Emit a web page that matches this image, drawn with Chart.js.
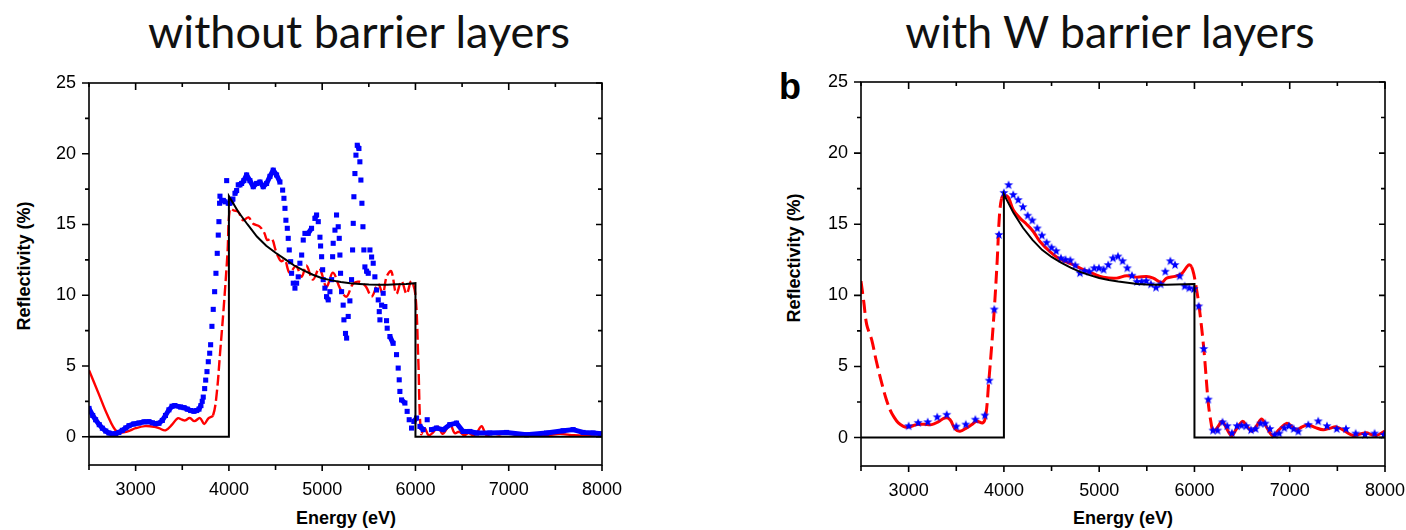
<!DOCTYPE html>
<html>
<head>
<meta charset="utf-8">
<script src="https://cdn.jsdelivr.net/npm/chart.js@4.4.1/dist/chart.umd.min.js"></script>
<style>
  body { margin: 0; width: 1406px; height: 530px; background: #fff; position: relative; overflow: hidden;
         font-family: 'Liberation Sans', Arial, sans-serif; color: #000; }
  canvas { position: absolute; top: 0; }
  .t { position: absolute; white-space: nowrap; line-height: 1; }
  .title { font-family: Lato, 'Open Sans', sans-serif; font-size: 42px; transform: translateX(-50%); color: #111; }
  .ax { font-weight: bold; font-size: 18px; transform: translate(-50%, -50%); }
  .ay { font-weight: bold; font-size: 18px; transform: translate(-50%, -50%) rotate(-90deg); }
  .lab { font-weight: bold; font-size: 36px; }
</style>
</head>
<body>
<div class="t title" id="titleA" style="left:359px; top:9px">without barrier layers</div>
<div class="t title" id="titleB" style="left:1110px; top:9px">with W barrier layers</div>
<div class="t lab" style="left:779px; top:69px">b</div>
<div class="t ay" style="left:24px; top:266px">Reflectivity (%)</div>
<div class="t ay" style="left:794px; top:258px">Reflectivity (%)</div>
<div class="t ax" style="left:346px; top:518px">Energy (eV)</div>
<div class="t ax" style="left:1123px; top:518px">Energy (eV)</div>
<canvas id="chartA" width="640" height="530" style="left:0"></canvas>
<canvas id="chartB" width="706" height="530" style="left:700px"></canvas>
<script>
// tick values (energy in eV, reflectivity in %)
const xTickValues = [2500, 3000, 3500, 4000, 4500, 5000, 5500, 6000, 6500, 7000, 7500, 8000];
const yTickValues = [0, 2.5, 5, 7.5, 10, 12.5, 15, 17.5, 20, 22.5, 25];

// ---- panel a: without barrier layers ----
const leftTheory = [
  [2500, 0], [4000, 0], [4000, 17.0], [4100, 15.9], [4200, 15.0], [4300, 14.15], [4400, 13.5],
  [4500, 13.0], [4600, 12.55], [4700, 12.1], [4800, 11.75], [4900, 11.45], [5000, 11.2],
  [5100, 11.05], [5200, 10.93], [5300, 10.85], [5400, 10.8], [5500, 10.76], [5600, 10.74],
  [5700, 10.74], [5800, 10.77], [5900, 10.8], [6000, 10.85], [6000, 0], [8000, 0]
];
const leftSimulation = [
  [2500, 4.7], [2600, 3.1], [2700, 1.5], [2800, 0.35], [2900, 0.35], [3000, 0.6], [3100, 0.75],
  [3200, 0.7], [3250, 0.6], [3320, 0.45], [3390, 0.85], [3450, 1.3], [3500, 1.2], [3530, 1.15],
  [3580, 1.32], [3630, 1.1], [3690, 1.32], [3735, 0.9], [3780, 1.3], [3830, 1.5], [3870, 3.1],
  [3905, 5.9], [3945, 9.2], [3985, 13.0], [4010, 16.1], [4050, 16.0], [4100, 15.9], [4150, 15.3],
  [4210, 15.5], [4260, 15.05], [4330, 14.85], [4380, 14.4], [4410, 13.9], [4460, 14.0], [4500, 13.2],
  [4530, 12.7], [4560, 12.4], [4600, 12.5], [4650, 11.6], [4720, 12.05], [4780, 11.3], [4830, 12.1],
  [4900, 11.1], [4970, 11.9], [5045, 10.6], [5115, 11.6], [5190, 10.5], [5260, 9.9], [5330, 10.8],
  [5400, 10.95], [5470, 10.6], [5530, 9.9], [5600, 10.8], [5650, 10.1], [5690, 11.3], [5740, 11.7],
  [5795, 10.1], [5850, 11.0], [5905, 10.1], [5955, 11.0], [6000, 10.0], [6030, 5.5], [6060, 0.2],
  [6100, 0.6], [6140, 0.1], [6190, 0.3], [6240, 0.7], [6290, 0.2], [6330, 0.5], [6370, 0.95],
  [6420, 0.25], [6470, 0.35], [6520, 0.1], [6570, 0.25], [6620, 0.1], [6660, 0.3], [6710, 0.75],
  [6760, 0.1], [6820, 0.25], [6900, 0.15], [6980, 0.3], [7100, 0.1], [7260, 0.2], [7400, 0.1],
  [7550, 0.2], [7700, 0.1], [7830, 0.1], [7980, 0.2]
];
const leftExperiment = [
  [2500, 2.0], [2540, 1.5], [2571, 1.2], [2610, 0.85], [2643, 0.6], [2680, 0.4], [2714, 0.26],
  [2750, 0.2], [2786, 0.21], [2820, 0.3], [2857, 0.45], [2895, 0.62], [2929, 0.78], [2980, 0.9],
  [3036, 0.97], [3090, 1.05], [3143, 1.06], [3180, 0.98], [3215, 0.92], [3250, 0.95], [3286, 1.15],
  [3320, 1.5], [3357, 1.9], [3390, 2.15], [3420, 2.2], [3482, 2.1], [3520, 2.05], [3554, 1.95],
  [3590, 1.85], [3625, 1.8], [3655, 1.85], [3679, 1.95], [3700, 2.2], [3714, 2.5], [3725, 2.8],
  [3740, 3.4], [3751, 4.0], [3765, 4.6], [3779, 5.3], [3794, 5.9], [3804, 6.5], [3818, 7.8],
  [3832, 9.0], [3847, 10.25], [3861, 11.55], [3875, 12.96], [3886, 14.25], [3893, 15.2], [3900, 16.5],
  [3904, 17.0], [3922, 16.7], [3940, 16.7], [3958, 16.6], [3976, 18.1], [3993, 16.5], [4010, 16.5],
  [4029, 16.6], [4043, 16.8], [4065, 17.2], [4083, 17.4], [4100, 17.8], [4118, 17.8], [4136, 17.9],
  [4160, 18.1], [4190, 18.5], [4225, 18.1], [4261, 17.67], [4297, 17.9], [4333, 18.0], [4368, 17.67],
  [4404, 17.9], [4440, 18.4], [4475, 18.84], [4511, 18.5], [4547, 18.0], [4576, 17.43], [4590, 16.85],
  [4601, 16.14], [4611, 15.3], [4626, 14.73], [4636, 14.02], [4647, 13.2], [4662, 12.37], [4672, 11.55],
  [4690, 10.85], [4708, 10.5], [4726, 10.85], [4743, 11.3], [4761, 12.26], [4780, 12.84], [4797, 13.9],
  [4815, 14.37], [4850, 14.37], [4886, 14.73], [4922, 15.43], [4940, 15.67], [4958, 15.2], [4976, 14.1],
  [4983, 13.48], [4994, 12.72], [5005, 11.8], [5011, 11.1], [5029, 10.5], [5047, 9.9], [5065, 9.67],
  [5083, 10.25], [5101, 11.1], [5112, 12.72], [5118, 13.67], [5137, 14.6], [5154, 15.67], [5172, 14.84],
  [5183, 14.02], [5190, 12.84], [5197, 11.55], [5208, 10.25], [5225, 9.3], [5233, 8.26], [5250, 7.3],
  [5262, 6.97], [5279, 8.5], [5297, 9.6], [5315, 11.1], [5326, 13.2], [5333, 15.08], [5340, 16.96],
  [5351, 18.6], [5362, 19.9], [5376, 20.6], [5394, 20.37], [5404, 19.43], [5415, 18.14], [5426, 16.5],
  [5437, 14.84], [5447, 13.2], [5458, 12.0], [5476, 11.7], [5494, 11.55], [5512, 13.2], [5530, 12.7],
  [5547, 12.26], [5565, 11.3], [5583, 10.37], [5601, 9.67], [5612, 8.84], [5619, 8.26], [5637, 9.3],
  [5654, 10.14], [5672, 9.2], [5690, 8.2], [5697, 7.67], [5726, 7.08], [5761, 6.6], [5797, 5.8],
  [5815, 4.85], [5826, 4.02], [5833, 3.2], [5851, 2.6], [5887, 2.38], [5911, 1.79], [5933, 1.2],
  [5958, 0.61], [5983, 1.08], [6012, 1.32], [6048, 0.73], [6083, 0.5], [6126, 1.2], [6172, 0.5],
  [6226, 0.61], [6297, 0.5], [6368, 0.85], [6440, 0.96], [6511, 0.37], [6583, 0.37], [6654, 0.26],
  [6797, 0.26], [6976, 0.3], [7190, 0.14], [7405, 0.26], [7583, 0.42], [7690, 0.5], [7797, 0.3],
  [7904, 0.26], [8000, 0.2]
];

// ---- panel b: with W barrier layers ----
const rightTheory = [
  [2500, 0], [4000, 0], [4000, 17.1], [4100, 15.8], [4200, 14.75], [4300, 13.9], [4400, 13.2],
  [4500, 12.7], [4600, 12.3], [4700, 11.95], [4800, 11.65], [4900, 11.42], [5000, 11.22],
  [5100, 11.08], [5200, 10.97], [5300, 10.88], [5400, 10.8], [5500, 10.76], [5600, 10.74],
  [5700, 10.74], [5800, 10.76], [5900, 10.78], [6000, 10.8], [6000, 0], [8000, 0]
];
const rightSimulation = [
  [2500, 11.0], [2530, 9.5], [2560, 7.94], [2612, 6.88], [2660, 5.4], [2717, 3.84], [2760, 2.8],
  [2804, 1.97], [2850, 1.4], [2892, 1.03], [2940, 0.8], [2979, 0.72], [3030, 0.8], [3084, 0.91],
  [3160, 0.93], [3242, 0.91], [3310, 1.1], [3381, 1.38], [3434, 1.26], [3486, 0.61], [3539, 0.44],
  [3609, 0.68], [3660, 0.9], [3714, 1.15], [3777, 1.03], [3809, 1.5], [3840, 3.84], [3871, 6.4],
  [3899, 9.0], [3930, 12.5], [3952, 15.5], [3975, 16.8], [4000, 17.0], [4045, 16.9], [4099, 16.0],
  [4168, 15.43], [4238, 15.0], [4308, 14.49], [4378, 13.79], [4483, 13.08], [4588, 12.55],
  [4728, 12.15], [4833, 11.8], [4938, 11.52], [5043, 11.28], [5183, 11.21], [5288, 11.38],
  [5393, 11.28], [5498, 11.33], [5568, 11.21], [5655, 10.91], [5708, 11.21], [5795, 11.33],
  [5865, 11.52], [5920, 12.0], [5945, 12.15], [5970, 12.0], [5993, 11.5], [6020, 10.5], [6049, 9.22],
  [6099, 6.18], [6145, 2.44], [6175, 1.0], [6197, 0.44], [6240, 0.7], [6290, 1.15], [6340, 0.6],
  [6390, 0.14], [6440, 0.6], [6505, 1.14], [6550, 0.8], [6600, 0.45], [6650, 0.8], [6705, 1.3],
  [6760, 0.7], [6826, 0.1], [6880, 0.5], [6967, 1.0], [7020, 0.8], [7072, 0.55], [7130, 0.75],
  [7194, 0.9], [7270, 0.7], [7352, 0.55], [7420, 0.65], [7489, 0.75], [7580, 0.45], [7663, 0.15],
  [7740, 0.25], [7804, 0.33], [7860, 0.2], [7909, 0.15], [7960, 0.3], [8000, 0.45]
];
const rightExperiment = [
  [3000, 0.8], [3100, 1.03], [3200, 1.08], [3300, 1.43], [3400, 1.6], [3500, 0.77], [3600, 0.91],
  [3700, 1.26], [3800, 1.55], [3846, 4.0], [3899, 9.0], [3948, 14.25], [4000, 17.2], [4049, 17.75],
  [4098, 17.06], [4150, 16.7], [4200, 16.2], [4249, 15.6], [4298, 15.26], [4350, 14.7], [4399, 14.2],
  [4448, 13.7], [4500, 13.35], [4549, 13.1], [4599, 12.6], [4647, 12.5], [4697, 12.45], [4749, 12.1],
  [4798, 11.56], [4847, 11.7], [4896, 11.66], [4948, 11.9], [4997, 11.9], [5046, 11.8], [5095, 12.13],
  [5144, 12.6], [5197, 12.73], [5246, 12.4], [5295, 11.9], [5344, 11.38], [5396, 10.95], [5445, 10.95],
  [5494, 11.0], [5543, 10.77], [5596, 10.54], [5645, 10.77], [5694, 11.66], [5747, 12.4], [5796, 12.13],
  [5845, 11.34], [5897, 10.63], [5946, 10.5], [5995, 10.44], [6044, 9.22], [6097, 6.23], [6145, 2.67],
  [6194, 0.49], [6243, 0.49], [6295, 1.07], [6344, 0.8], [6393, 0.3], [6446, 0.8], [6495, 0.84],
  [6544, 0.8], [6593, 0.52], [6642, 0.6], [6694, 0.98], [6743, 0.98], [6792, 0.6], [6841, 0.19],
  [6890, 0.28], [6943, 0.66], [6992, 0.8], [7041, 0.6], [7090, 0.42], [7195, 0.89], [7299, 1.14],
  [7391, 0.8], [7493, 0.6], [7590, 0.6], [7692, 0.28], [7790, 0.19], [7891, 0.28], [7989, 0.19]
];

const toXY = arr => arr.map(p => ({ x: p[0], y: p[1] }));

// pixel slope of one line segment
function slope(c) {
  const dx = Math.abs(c.p1.x - c.p0.x), dy = Math.abs(c.p1.y - c.p0.y);
  return dx === 0 ? Infinity : dy / dx;
}

// filled five point star used as point marker
function starMarker(r, color) {
  const cv = document.createElement('canvas');
  const s = Math.ceil(r * 2) + 2;
  cv.width = s; cv.height = s;
  const g = cv.getContext('2d');
  g.fillStyle = color;
  g.beginPath();
  for (let i = 0; i < 10; i++) {
    const rad = i % 2 === 0 ? r : r * 0.42;
    const a = -Math.PI / 2 + i * Math.PI / 5;
    g.lineTo(s / 2 + rad * Math.cos(a), s / 2 + rad * Math.sin(a));
  }
  g.closePath();
  g.fill();
  return cv;
}

// box round the plot, ticks out on bottom/left, in on top/right
const framePlugin = {
  id: 'frame',
  afterDraw(chart) {
    const { ctx, chartArea: a, scales: { x, y } } = chart;
    ctx.save();
    ctx.strokeStyle = '#000';
    ctx.lineWidth = 1.6;
    ctx.strokeRect(a.left, a.top, a.right - a.left, a.bottom - a.top);
    ctx.beginPath();
    xTickValues.forEach(v => {
      const px = x.getPixelForValue(v);
      const major = v % 1000 === 0;
      ctx.moveTo(px, a.bottom); ctx.lineTo(px, a.bottom + (major ? 6 : 5));
      ctx.moveTo(px, a.top); ctx.lineTo(px, a.top + (major ? 7 : 4));
    });
    yTickValues.forEach(v => {
      const py = y.getPixelForValue(v);
      const major = v % 5 === 0;
      ctx.moveTo(a.left - (major ? 7 : 4), py); ctx.lineTo(a.left, py);
      ctx.moveTo(a.right - (major ? 6 : 4), py); ctx.lineTo(a.right, py);
    });
    ctx.stroke();
    ctx.restore();
  }
};

function scalesFor(yWidth, xHeight) {
  const tickFont = { family: "'Liberation Sans', Arial, sans-serif", size: 18 };
  return {
    x: {
      type: 'linear', min: 2500, max: 8000,
      afterBuildTicks: s => { s.ticks = xTickValues.map(v => ({ value: v })); },
      afterFit: s => { s.height = xHeight; s.paddingLeft = 0; s.paddingRight = 0; },
      ticks: { autoSkip: false, maxRotation: 0, padding: 14, color: '#000', font: tickFont,
               callback: v => (v % 1000 === 0 ? String(v) : '') },
      grid: { display: false, drawTicks: false },
      border: { display: false }
    },
    y: {
      type: 'linear', min: -2, max: 25,
      afterBuildTicks: s => { s.ticks = yTickValues.map(v => ({ value: v })); },
      afterFit: s => { s.width = yWidth; s.paddingTop = 0; s.paddingBottom = 0; },
      ticks: { autoSkip: false, padding: 13, color: '#000', font: tickFont,
               callback: v => (v % 5 === 0 ? String(v) : '') },
      grid: { display: false, drawTicks: false },
      border: { display: false }
    }
  };
}

const baseOptions = (padding, yWidth, xHeight) => ({
  responsive: false,
  animation: false,
  devicePixelRatio: 1,
  layout: { padding },
  plugins: { legend: { display: false }, tooltip: { enabled: false }, title: { display: false } },
  elements: { point: { hoverRadius: 0 } },
  scales: scalesFor(yWidth, xHeight)
});

// panel a
new Chart(document.getElementById('chartA'), {
  type: 'scatter',
  data: {
    datasets: [
      {
        label: 'theory', data: toXY(leftTheory), showLine: true, order: 0,
        borderColor: '#000', borderWidth: 2, pointRadius: 0, tension: 0
      },
      {
        label: 'experiment', data: toXY(leftExperiment), showLine: true, order: 1,
        borderColor: '#0000ff', borderWidth: 5, borderJoinStyle: 'round',
        pointStyle: 'rect', pointRadius: 3.6, pointBackgroundColor: '#0000ff', pointBorderWidth: 0,
        segment: { borderColor: c => (slope(c) > 2.2 ? 'rgba(0,0,255,0)' : undefined) }
      },
      {
        label: 'simulation', data: toXY(leftSimulation), showLine: true, order: 2,
        borderColor: '#ff0000', borderWidth: 2.4, pointRadius: 0, tension: 0.35,
        segment: {
          borderDash: c => {
            const e = leftSimulation[c.p0DataIndex][0];
            return (slope(c) > 2.5 || (e >= 4000 && e < 6000)) ? [11, 4] : undefined;
          }
        }
      }
    ]
  },
  options: baseOptions({ left: 0, top: 83, right: 38, bottom: 0 }, 89, 65),
  plugins: [framePlugin]
});

// panel b
new Chart(document.getElementById('chartB'), {
  type: 'scatter',
  data: {
    datasets: [
      {
        label: 'theory', data: toXY(rightTheory), showLine: true, order: 0,
        borderColor: '#000', borderWidth: 2, pointRadius: 0, tension: 0
      },
      {
        label: 'experiment', data: toXY(rightExperiment), showLine: false, order: 1,
        pointStyle: starMarker(4.8, '#0000ff'), pointRadius: 5
      },
      {
        label: 'simulation', data: toXY(rightSimulation), showLine: true, order: 2,
        borderColor: '#ff0000', borderWidth: 3, pointRadius: 0, tension: 0.35,
        segment: { borderDash: c => (slope(c) > 2.5 ? [13, 6] : undefined) }
      }
    ]
  },
  options: baseOptions({ left: 0, top: 82, right: 21, bottom: 0 }, 161, 64),
  plugins: [framePlugin]
});

// fit the two headings to the width they have in the figure
[['titleA', 422], ['titleB', 410]].forEach(([id, w]) => {
  const el = document.getElementById(id);
  const fs = parseFloat(getComputedStyle(el).fontSize);
  el.style.fontSize = (fs * w / el.offsetWidth).toFixed(1) + 'px';
});
</script>
</body>
</html>
